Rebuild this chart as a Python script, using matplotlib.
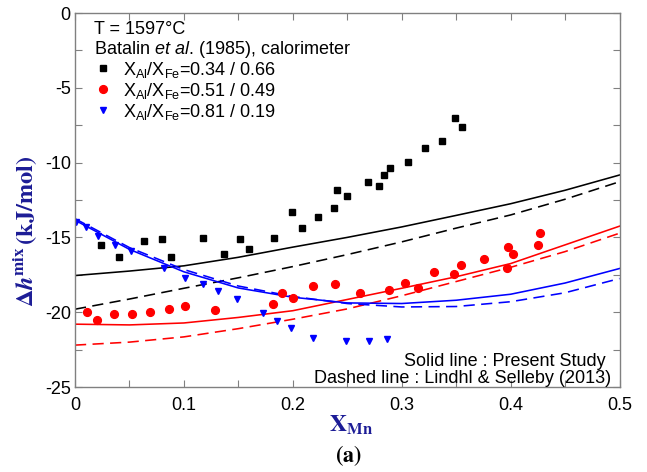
import matplotlib
matplotlib.use("Agg")
import matplotlib.pyplot as plt
from matplotlib.ticker import FixedLocator, MultipleLocator

plt.rcParams['font.family'] = ['Liberation Sans', 'DejaVu Sans']
plt.rcParams['mathtext.fontset'] = 'custom'
plt.rcParams['mathtext.rm'] = 'Liberation Sans'
plt.rcParams['mathtext.it'] = 'Liberation Sans:italic'
plt.rcParams['mathtext.bf'] = 'Liberation Sans:bold'
plt.rcParams['axes.unicode_minus'] = False

# ---------------- data ----------------
# Batalin et al. (1985) calorimetric points
x_034 = [0.0242, 0.0407, 0.0634, 0.0799, 0.0879, 0.1175, 0.1368, 0.1515, 0.1598,
         0.1825, 0.1995, 0.2086, 0.2229, 0.2375, 0.2408, 0.2496, 0.2689, 0.2794,
         0.2835, 0.2893, 0.3058, 0.3214, 0.3373, 0.3489, 0.3556]
y_034 = [-15.53, -16.34, -15.26, -15.13, -16.33, -15.04, -16.08, -15.13, -15.78,
         -15.04, -13.28, -14.37, -13.64, -13.01, -11.85, -12.25, -11.32, -11.58,
         -10.85, -10.36, -9.96, -9.04, -8.54, -7.00, -7.62]

x_051 = [0.0113, 0.0205, 0.0358, 0.0521, 0.0689, 0.0863, 0.1013, 0.1286, 0.1818,
         0.1904, 0.2002, 0.2183, 0.2388, 0.2617, 0.2881, 0.3033, 0.3152, 0.3297,
         0.3480, 0.3545, 0.3758, 0.3976, 0.4025, 0.3970, 0.4254, 0.4273]
y_051 = [-20.01, -20.54, -20.14, -20.14, -19.99, -19.81, -19.61, -19.85, -19.47,
         -18.70, -19.05, -18.25, -18.14, -18.74, -18.54, -18.05, -18.40, -17.33,
         -17.43, -16.82, -16.42, -15.64, -16.09, -17.03, -15.53, -14.71]

x_081 = [0.0005, 0.0104, 0.0211, 0.0365, 0.0511, 0.0820, 0.1010, 0.1173, 0.1313,
         0.1489, 0.1729, 0.1855, 0.1986, 0.2183, 0.2493, 0.2704, 0.2868]
y_081 = [-13.98, -14.28, -14.93, -15.49, -15.93, -17.03, -17.69, -18.13, -18.57,
         -19.14, -20.05, -20.57, -21.08, -21.74, -21.91, -21.91, -21.79]

# calculated curves
x_calc = [0.0, 0.05, 0.10, 0.15, 0.20, 0.25, 0.30, 0.35, 0.40, 0.45, 0.50]
black_solid = [-17.55, -17.25, -16.90, -16.33, -15.65, -15.00, -14.30, -13.53, -12.75, -11.85, -10.83]
black_dash = [-19.80, -19.12, -18.40, -17.70, -16.95, -16.15, -15.30, -14.38, -13.50, -12.45, -11.28]
red_solid = [-20.80, -20.85, -20.72, -20.35, -19.90, -19.15, -18.40, -17.63, -16.75, -15.50, -14.25]
red_dash = [-22.20, -22.00, -21.65, -21.10, -20.47, -19.78, -18.90, -17.95, -17.00, -15.95, -14.72]
blue_solid = [-13.85, -15.80, -17.30, -18.38, -19.00, -19.38, -19.42, -19.20, -18.80, -18.05, -17.08]
blue_dash = [-13.75, -15.68, -17.15, -18.25, -18.95, -19.42, -19.65, -19.62, -19.30, -18.70, -17.75]

labels = [r'X$_{\rm Al}$/X$_{\rm Fe}$=0.34 / 0.66',
          r'X$_{\rm Al}$/X$_{\rm Fe}$=0.51 / 0.49',
          r'X$_{\rm Al}$/X$_{\rm Fe}$=0.81 / 0.19']
xticks = [0.0, 0.1, 0.2, 0.3, 0.4, 0.5]
xtick_labels = ['0', '0.1', '0.2', '0.3', '0.4', '0.5']
yticks = [-25, -20, -15, -10, -5, 0]
ytick_labels = ['-25', '-20', '-15', '-10', '-5', '0']

# ---------------- figure ----------------
fig = plt.figure(figsize=(6.47, 4.72), dpi=100)
ax = fig.add_axes([75 / 647, 1 - 387 / 472, 544.5 / 647, 374 / 472])

lw = 1.15
ax.plot(x_calc, black_solid, color='black', lw=lw)
ax.plot(x_calc, black_dash, color='black', lw=lw, dashes=(7, 4))
ax.plot(x_calc, red_solid, color='#ff0000', lw=lw)
ax.plot(x_calc, red_dash, color='#ff0000', lw=lw, dashes=(7, 4))
ax.plot(x_calc, blue_solid, color='#0000ff', lw=lw)
ax.plot(x_calc, blue_dash, color='#0000ff', lw=lw, dashes=(7, 4))

h1, = ax.plot(x_034, y_034, 's', color='black', ms=4.5, ls='none')
h2, = ax.plot(x_051, y_051, 'o', color='#ff0000', ms=5.6, ls='none')
h3, = ax.plot(x_081, y_081, 'v', color='#0000ff', ms=5.0, ls='none')

ax.set_xlim(0, 0.5)
ax.set_ylim(-25, 0)
ax.xaxis.set_major_locator(FixedLocator(xticks))
ax.set_xticklabels(xtick_labels)
ax.yaxis.set_major_locator(FixedLocator(yticks))
ax.set_yticklabels(ytick_labels)
ax.xaxis.set_minor_locator(MultipleLocator(0.05))
ax.yaxis.set_minor_locator(MultipleLocator(2.5))

for s in ax.spines.values():
    s.set_color('#808080')
    s.set_linewidth(1.0)
ax.tick_params(which='both', direction='in', top=True, right=True, color='#808080',
               labelsize=13)
ax.tick_params(which='major', length=5, width=0.8)
ax.tick_params(which='minor', length=5, width=0.8)
ax.tick_params(axis='x', pad=7)
ax.tick_params(axis='y', pad=3)

# texts
ax.text(0.035, 0.945, 'T = 1597°C', transform=ax.transAxes, fontsize=13, va='baseline')
ax.text(0.035, 0.8895, r'Batalin $\mathit{et\ al}$. (1985), calorimeter',
        transform=ax.transAxes, fontsize=13, va='baseline')

leg = ax.legend([h1, h2, h3], labels, loc='upper left', bbox_to_anchor=(0.038, 0.875),
                frameon=False, fontsize=13, handlelength=0.8, handletextpad=0.7,
                labelspacing=0.05, borderaxespad=0, borderpad=0)

ax.text(0.975, 0.057, 'Solid line : Present Study', transform=ax.transAxes,
        fontsize=13, ha='right', va='baseline')
ax.text(0.984, 0.012, 'Dashed line : Lindhl & Selleby (2013)', transform=ax.transAxes,
        fontsize=13, ha='right', va='baseline')

label_color = '#1c1c96'
ax.text(0.507, -0.1195, r'$\mathbf{X}_{\mathbf{Mn}}$', transform=ax.transAxes,
        fontsize=17, ha='center', va='baseline', color=label_color, math_fontfamily='stix')
ax.text(0.502, -0.2005, r'$\mathbf{(a)}$', transform=ax.transAxes,
        fontsize=16, ha='center', va='baseline', color='black', math_fontfamily='stix')
ax.text(-0.092, 0.415, r'$\mathbf{\Delta}\mathbfit{h}^{\mathbf{mix}}\,\mathbf{(kJ/mol)}$',
        transform=ax.transAxes, fontsize=17.5, ha='center', va='center', rotation=90,
        color=label_color, math_fontfamily='stix')

fig.savefig('out.png', dpi=100)
